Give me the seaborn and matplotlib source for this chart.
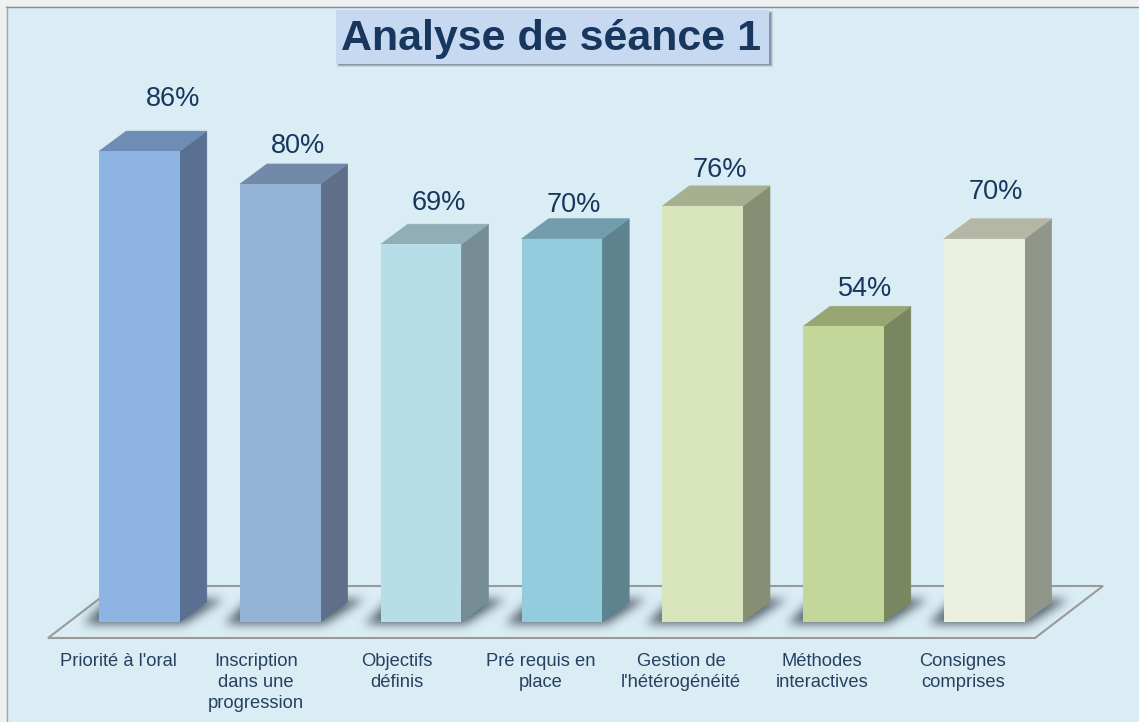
import numpy as np
import pandas as pd
import matplotlib
matplotlib.use("Agg")
import matplotlib.pyplot as plt
from matplotlib.patches import Polygon, Rectangle
from matplotlib.path import Path
from matplotlib.transforms import Affine2D, ScaledTranslation
import seaborn as sns

categories = ["Priorité à l'oral", "Inscription\ndans une\nprogression", "Objectifs\ndéfinis",
              "Pré requis en\nplace", "Gestion de\nl'hétérogénéité", "Méthodes\ninteractives",
              "Consignes\ncomprises"]
values = [86, 80, 69, 70, 76, 54, 70]
front_colors = ["#8DB4E3", "#95B3D7", "#B7DEE8", "#93CDDD", "#D8E4BC", "#C4D79B", "#EBF1DE"]
side_colors = ["#5A7092", "#5F6F89", "#758D93", "#5E838F", "#868F73", "#7A8660", "#91968A"]
top_colors = ["#6F8CB4", "#7389A9", "#91AEB6", "#739DAD", "#A6AF8F", "#97A672", "#B5B7A5"]
label_dx = [34, 18, 18, 12, 17, 22, 12]
label_dy = [52, 38, 41, 34, 36, 37, 47]
tick_dx = [-21.5, -24.5, -24.5, -21.5, -21.5, -21.5, -21.5]

W, H, DPI = 1139, 722, 100
BG = "#DBEDF4"
NAVY = "#17375E"
LABEL = "#254061"

sns.set_theme(style="white")
plt.rcParams["font.family"] = ["Liberation Sans", "DejaVu Sans"]

fig = plt.figure(figsize=(W / DPI, H / DPI), dpi=DPI, facecolor=BG)
px = Affine2D().scale(1, -1).translate(0, H)  # pixel coordinates, origin top-left

bg = fig.add_axes([0, 0, 1, 1], zorder=0)
bg.set_xlim(0, W)
bg.set_ylim(H, 0)
bg.axis("off")

# window frame
bg.add_patch(Rectangle((0, 0), W, 6, fc="#F0F0F0", ec="none", zorder=1))
bg.add_patch(Rectangle((0, 0), 6, H, fc="#F0F0F0", ec="none", zorder=1))
bg.plot([6, W], [6.5, 6.5], color="#8C8C8C", lw=1, zorder=1.1)
bg.plot([6.5, 6.5], [6, H], color="#A8A8A8", lw=1, zorder=1.1)

# floor
bg.add_patch(Polygon([(48, 638), (1035, 638), (1103, 586), (116, 586)], closed=True,
                     fc=BG, ec="#9A9A9A", lw=1.5, zorder=1.5))

# chart axes: baseline at y=622 px, 100% at y=74.5 px; categories spaced 140.8 px
left, right = 69.1, 1054.7
base, top = 622.0, 74.5
ax = fig.add_axes([left / W, 1 - base / H, (right - left) / W, (base - top) / H], zorder=2)
ax.patch.set_alpha(0)
df = pd.DataFrame({"cat": categories, "val": values})
sns.barplot(data=df, x="cat", y="val", hue="cat", palette=front_colors, legend=False,
            width=0.572, saturation=1, linewidth=0, ax=ax, zorder=3)
ax.set_xlim(-0.5, 6.5)
ax.set_ylim(0, 100)
ax.set_xlabel("")
ax.set_ylabel("")
ax.set_yticks([])
sns.despine(ax=ax, left=True, bottom=True)
ax.tick_params(axis="x", length=0, pad=22, labelsize=13.2, labelcolor=LABEL)
for lab, shift in zip(ax.get_xticklabels(), tick_dx):
    lab.set_transform(lab.get_transform() + ScaledTranslation(shift / DPI, 0, fig.dpi_scale_trans))
    lab.set_linespacing(1.34)

# 3D depth, computed from the bars themselves
dx = 27 / ((right - left) / 7)
dy = 20 / ((base - top) / 100)
bars = list(ax.patches)
yy, xx = np.mgrid[0:H, 0:W]
pts = np.column_stack([xx.ravel() + .5, yy.ravel() + .5])
mask = np.zeros((H, W))
to_px = ax.transData + px.inverted()
for i, b in enumerate(bars):
    x0, w, h = b.get_x(), b.get_width(), b.get_height()
    x1 = x0 + w
    ax.add_patch(Polygon([(x1, 0), (x1 + dx, dy), (x1 + dx, h + dy), (x1, h)], closed=True,
                         fc=side_colors[i], ec=side_colors[i], lw=0.5, zorder=2.9, clip_on=False))
    ax.add_patch(Polygon([(x0, h), (x1, h), (x1 + dx, h + dy), (x0 + dx, h + dy)], closed=True,
                         fc=top_colors[i], ec=top_colors[i], lw=0.5, zorder=2.9, clip_on=False))
    ax.annotate(f"{values[i]}%", xy=(x0 + w / 2, h), xytext=(label_dx[i], label_dy[i]),
                textcoords="offset pixels", ha="center", va="center",
                fontsize=19.5, color=NAVY, annotation_clip=False, zorder=5)
    # floor shadow
    (pl, _), (pr, _) = to_px.transform([(x0, 0), (x1, 0)])
    poly = Path([(pl - 16, 624), (pr + 4, 624), (pr + 44, 599), (pl + 10, 599)])
    sub = (xx > pl - 40) & (xx < pr + 70) & (yy > 585) & (yy < 640)
    mask[sub] = np.maximum(mask[sub], poly.contains_points(pts[sub.ravel()]).astype(float))

# blur the shadow
kernel = np.exp(-0.5 * (np.arange(-15, 16) / 5.0) ** 2)
kernel /= kernel.sum()
blur = np.apply_along_axis(lambda r: np.convolve(r, kernel, mode="same"), 1, mask[575:650])
blur = np.apply_along_axis(lambda c: np.convolve(c, kernel, mode="same"), 0, blur)
full = np.zeros((H, W))
full[575:650] = blur
rgba = np.zeros((H, W, 4))
rgba[..., :3] = np.array([75, 90, 100]) / 255
rgba[..., 3] = full * 0.95
bg.imshow(rgba, extent=(0, W, H, 0), aspect="auto", zorder=2, interpolation="bilinear")
bg.set_xlim(0, W)
bg.set_ylim(H, 0)

# title box with a soft shadow
for grow, alpha in [(2, 0.2), (1, 0.3), (0, 0.45)]:
    bg.add_patch(Rectangle((339 - grow, 13 - grow), 433 + 2 * grow - 1, 53 + 2 * grow - 1,
                           fc="#5F7385", ec="none", alpha=alpha, zorder=3))
bg.add_patch(Rectangle((336, 10), 433, 54, fc="#C6D9F1", ec="none", zorder=3.1))
bg.text(551, 39, "Analyse de séance 1", ha="center", va="center",
        fontsize=31, fontweight="bold", color=NAVY, zorder=4)

fig.savefig("out.png", dpi=DPI, facecolor=BG)
